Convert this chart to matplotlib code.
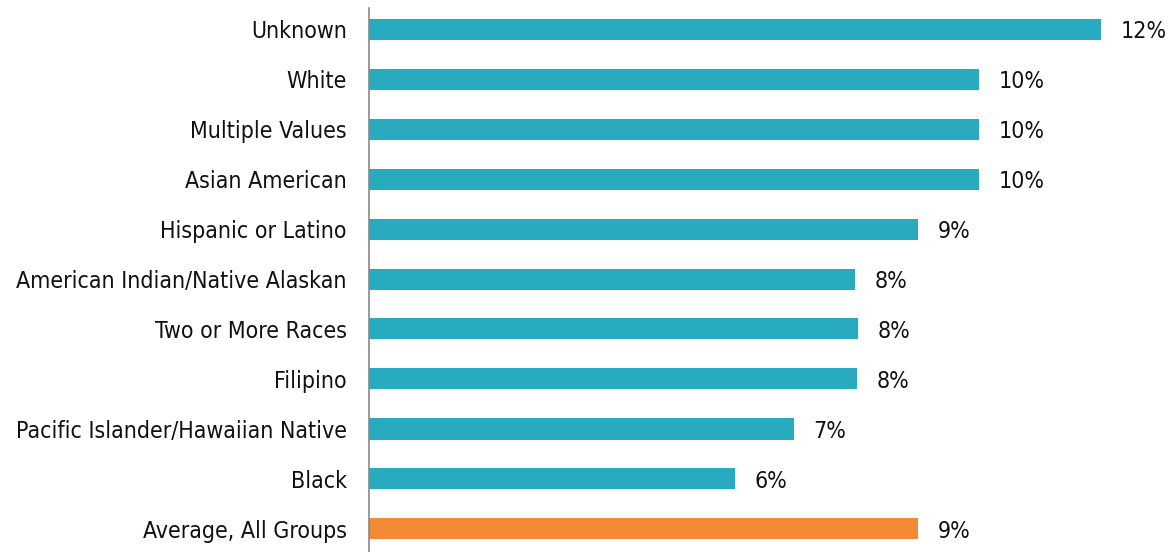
import matplotlib
matplotlib.use('Agg')
import matplotlib.pyplot as plt

# categories (top to bottom) and rates in percent
groups = ['Unknown', 'White', 'Multiple Values', 'Asian American',
          'Hispanic or Latino', 'American Indian/Native Alaskan',
          'Two or More Races', 'Filipino', 'Pacific Islander/Hawaiian Native',
          'Black', 'Average, All Groups']
rates = [12.0, 10.0, 10.0, 10.0, 9.0, 7.97, 8.02, 8.0, 6.97, 6.0, 9.0]

TEAL = '#29abbf'
ORANGE = '#f28a36'
colors = [TEAL] * (len(groups) - 1) + [ORANGE]

plt.rcParams['font.family'] = ['DejaVu Sans']
plt.rcParams['font.stretch'] = 'condensed'
FS = 16.6

fig = plt.figure(figsize=(11.7, 5.52), dpi=100)
ax = fig.add_axes([369 / 1170, 0, 801 / 1170, 1 - 8 / 552])

y = range(len(groups))
ax.barh(y, rates, height=0.42, color=colors)

for yi, v in zip(y, rates):
    ax.text(v + 0.32, yi + 0.06, f'{v:.0f}%', va='center', ha='left',
            fontsize=FS, color='#111', fontstretch='condensed')

ax.set_yticks(list(y))
ax.set_yticklabels(groups, fontsize=FS, color='#111', fontstretch='condensed')
ax.tick_params(axis='y', length=0, pad=16)
ax.set_xticks([])
ax.set_xlim(0, 801 / 61)
ax.set_ylim(10.46, -0.42)

for s in ['top', 'right', 'bottom']:
    ax.spines[s].set_visible(False)
ax.spines['left'].set_color('#888')
ax.spines['left'].set_linewidth(1.2)

fig.savefig('out.png', dpi=100)
